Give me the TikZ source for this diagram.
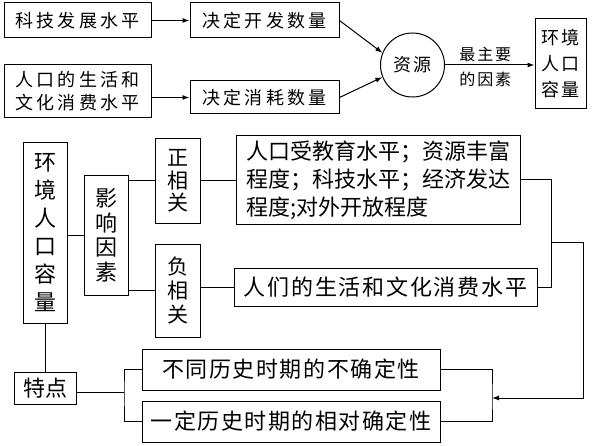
\documentclass[tikz,border=0pt]{standalone}
\usepackage{fontspec}
\newfontfamily\cjk{Noto Sans CJK SC}
\usetikzlibrary{arrows.meta}
\begin{document}
\begin{tikzpicture}[x=1pt,y=-1pt,
  box/.style={draw, line width=1pt, inner sep=0pt, align=center},
  ln/.style={line width=1pt},
  arr/.style={line width=1pt, -{Latex[length=7pt,width=5pt]}},
  ftop/.style={font=\fontsize{18}{23}\cjk\addfontfeature{LetterSpace=17}},
  fcirc/.style={font=\fontsize{18}{23}\cjk\addfontfeature{LetterSpace=8}},
  flbl/.style={font=\fontsize{16}{18}\cjk\addfontfeature{LetterSpace=12}, inner sep=0pt},
  fenv/.style={font=\fontsize{18}{26}\cjk\addfontfeature{LetterSpace=10}},
  fmid/.style={font=\fontsize{22}{28}\cjk},
  fwide/.style={font=\fontsize{22}{28}\cjk\addfontfeature{LetterSpace=7}}
]
\useasboundingbox (0,0) rectangle (596,446);

% top section
\node[box, ftop, minimum width=147pt, minimum height=35pt] (kj) at (77.5,20.5) {科技发展水平};
\node[box, ftop, minimum width=149pt, minimum height=35pt] (kf) at (264.5,20.5) {决定开发数量};
\node[box, ftop, minimum width=147pt, minimum height=53pt] (rk) at (77.5,91.5) {人口的生活和\\文化消费水平};
\node[box, ftop, minimum width=149pt, minimum height=33pt] (xh) at (264.5,97.5) {决定消耗数量};
\node[draw, line width=1pt, circle, inner sep=0pt, minimum size=64pt, fcirc] (zy) at (412.5,65) {资源};
\node[box, fenv, minimum width=51pt, minimum height=90pt] (hjt) at (560.5,64) {环境\\人口\\容量};

\draw[arr] (kj.east) -- (kf.west);
\draw[arr] (xh.west -| rk.east) -- (xh.west);
\draw[arr] (kf.east) -- (zy.158);
\draw[arr] (xh.east) -- (zy.202);
\draw[arr] (zy.east) -- (zy.east -| hjt.west)
  node[pos=0.45, above=3pt, flbl] {最主要}
  node[pos=0.45, below=6pt, flbl] {的因素};

% middle section
\node[box, font=\fontsize{22}{28}\cjk, minimum width=44pt, minimum height=180pt] (hjv) at (45,233) {环\\境\\人\\口\\容\\量};
\node[box, font=\fontsize{22}{24.5}\cjk, minimum width=44pt, minimum height=119pt] (yx) at (106,235.5) {影\\响\\因\\素};
\node[box, font=\fontsize{21}{22.5}\cjk, minimum width=45pt, minimum height=84pt] (zx) at (177.5,181) {正\\相\\关};
\node[box, font=\fontsize{21}{24}\cjk, minimum width=45pt, minimum height=93pt] (fx) at (177.5,290.5) {负\\相\\关};
\node[box, fmid, align=left, minimum width=284pt, minimum height=88pt] (b1) at (378,180) {人口受教育水平；资源丰富\\程度；科技水平；经济发达\\程度;对外开放程度};
\node[box, font=\fontsize{22}{28}\cjk\addfontfeature{LetterSpace=8}, minimum width=303pt, minimum height=38pt] (b2) at (385.5,287) {人们的生活和文化消费水平};

\draw[ln] (yx.west -| hjv.east) -- (yx.west);
\draw[ln] (zx.west -| yx.east) -- (zx.west);
\draw[ln] (fx.west -| yx.east) -- (fx.west);
\draw[ln] (zx.east) -- (zx.east -| b1.west);
\draw[ln] (b2.west -| fx.east) -- (b2.west);

\coordinate (br) at (551,242);
\coordinate (rc) at (583,398);
\coordinate (br2) at (492,398);
\draw[ln] (b1.east) -| (br) |- (b2.east);
\draw[arr] (br) -| (rc) -- (br2);

% bottom section
\node[box, font=\fontsize{22}{28}\cjk, minimum width=62pt, minimum height=32pt] (td) at (45,388) {特点};
\node[box, fwide, minimum width=298pt, minimum height=41pt] (c1) at (291,369.5) {不同历史时期的不确定性};
\node[box, fwide, minimum width=298pt, minimum height=41pt] (c2) at (291,421.5) {一定历史时期的相对确定性};

\draw[ln] (hjv.south) -- (td.north);
\coordinate (bl) at (124,392);
\draw[ln] (td.east |- bl) -- (bl);
\draw[ln] (c1.west) -| (bl) |- (c2.west);
\draw[ln] (c1.east) -| (br2) |- (c2.east);
\end{tikzpicture}
\end{document}
